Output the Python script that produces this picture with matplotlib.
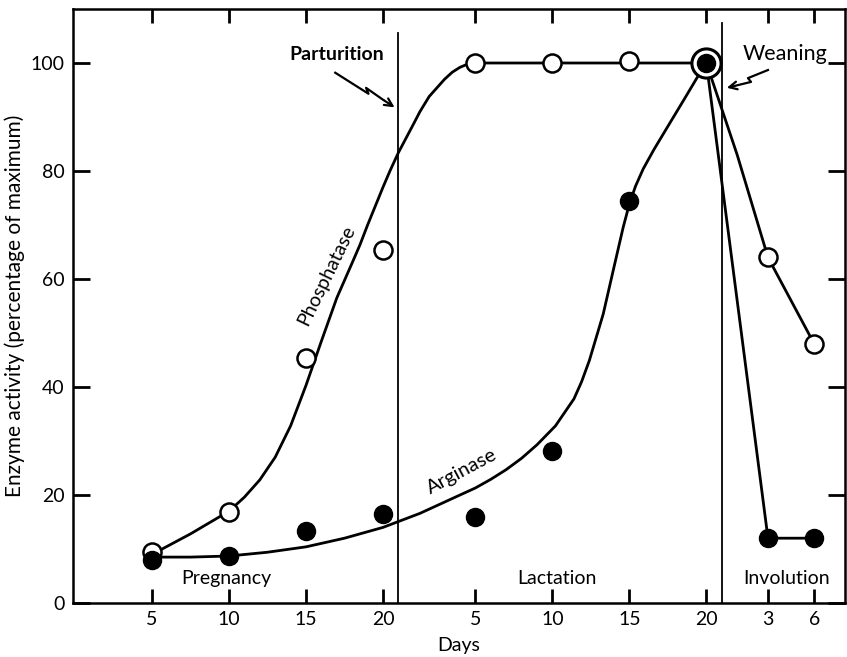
import matplotlib
matplotlib.use("Agg")
import matplotlib.pyplot as plt

# Timeline in days: pregnancy day d -> d, lactation day d -> 21 + d,
# involution day d -> 42 + d
PARTURITION = 21
WEANING = 42

tick_pos = [5, 10, 15, 20, 26, 31, 36, 41, 45, 48]
tick_labels = ["5", "10", "15", "20", "5", "10", "15", "20", "3", "6"]

# measured points
phos_x = [5, 10, 15, 20, 26, 31, 36, 41, 45, 48]
phos_y = [9.4, 16.8, 45.3, 65.3, 100, 100, 100.3, 100, 64, 48]
arg_x = [5, 10, 15, 20, 26, 31, 36, 41, 45, 48]
arg_y = [7.9, 8.7, 13.3, 16.4, 15.9, 28.1, 74.5, 100, 12, 12]

# hand-drawn fitted curves
phos_curve_x = [5, 7.5, 10, 11, 12, 13, 14, 15, 16, 17, 18, 18.5, 19, 19.4, 20,
                20.45, 21, 22, 22.4, 23, 24, 24.5, 25, 25.5, 26,
                31, 36, 41, 43, 45, 46.5, 48]
phos_curve_y = [9, 12.8, 17, 19.6, 22.8, 27, 32.8, 40.3, 48.5, 56.5, 63, 66.3, 70,
                72.8, 77, 80, 83.4, 88.8, 91, 93.8, 97, 98.3, 99.2, 99.8, 100,
                100, 100, 100, 83, 64, 56, 48]
arg_curve_x = [5, 7.5, 10, 12.5, 15, 17.5, 20, 22.4, 25, 26, 27, 28, 29, 30,
               31.2, 32.4, 32.9, 33.4, 34.3, 35, 35.6, 36, 36.4, 36.9, 37.6,
               38.4, 39.5, 40.4, 41, 45, 48]
arg_curve_y = [8.5, 8.5, 8.7, 9.4, 10.4, 12, 14, 16.6, 20, 21.3, 22.9, 24.7, 26.8,
               29.3, 32.8, 37.8, 41, 44.9, 53.5, 62.2, 69.6, 73.9, 77.2, 80.4,
               84, 87.8, 93, 97.3, 100, 12, 12]

plt.rcParams["font.family"] = ["Lato", "DejaVu Sans"]

fig = plt.figure(figsize=(8.47, 6.57), dpi=100)
ax = fig.add_axes([0.0862, 0.0822, 0.9114, 0.9041])

# curves
ax.plot(phos_curve_x, phos_curve_y, color="black", lw=2.0, zorder=2,
        solid_joinstyle="round")
ax.plot(arg_curve_x, arg_curve_y, color="black", lw=2.0, zorder=2,
        solid_joinstyle="round")

# points
ax.plot(phos_x, phos_y, "o", ms=13, mfc="white", mec="black", mew=1.8, zorder=3)
ax.plot([41], [100], "o", ms=21, mfc="white", mec="black", mew=2.2, zorder=4)
ax.plot(arg_x, arg_y, "o", ms=13, mfc="black", mec="black", zorder=5)

# phase boundaries
ax.plot([PARTURITION, PARTURITION], [0, 105.5], color="black", lw=1.3, zorder=1)
ax.plot([WEANING, WEANING], [0, 107.5], color="black", lw=1.3, zorder=1)

ax.set_xlim(-0.13, 50)
ax.set_ylim(0, 110)
ax.set_xticks(tick_pos)
ax.set_xticklabels(tick_labels)
ax.set_yticks([0, 20, 40, 60, 80, 100])

for s in ax.spines.values():
    s.set_linewidth(1.8)
ax.tick_params(axis="both", direction="in", width=2, labelsize=14, pad=6)
ax.tick_params(axis="x", length=10, top=True)
ax.tick_params(axis="y", length=12, right=True)

ax.set_ylabel("Enzyme activity (percentage of maximum)", fontsize=15, labelpad=4)
ax.set_xlabel("Days", fontsize=14, labelpad=6)

# text labels
ax.text(16.3, 60.6, "Phosphatase", rotation=64, fontsize=14, ha="center", va="center")
ax.text(25.1, 24.4, "Arginase", rotation=28, fontsize=14.5, ha="center", va="center")
ax.text(9.8, 4.5, "Pregnancy", fontsize=14, ha="center", va="center")
ax.text(31.3, 4.5, "Lactation", fontsize=14, ha="center", va="center")
ax.text(46.2, 4.5, "Involution", fontsize=14, ha="center", va="center")
ax.text(17.0, 101.5, "Parturition", fontsize=14, fontweight="bold", ha="center", va="center")
ax.text(46.1, 101.6, "Weaning", fontsize=15.5, ha="center", va="center")

# lightning-style arrows
ax.plot([16.9, 19.06, 18.9, 20.0], [98.2, 94.3, 95.4, 93.2], color="black", lw=1.6)
ax.annotate("", xy=(20.9, 91.5), xytext=(19.9, 93.4),
            arrowprops=dict(arrowstyle="->", lw=1.6, color="black",
                            mutation_scale=14))
ax.plot([45.0, 43.7, 43.9, 42.9], [98.7, 97.2, 96.5, 95.8], color="black", lw=1.6)
ax.annotate("", xy=(42.15, 95.3), xytext=(43.0, 95.85),
            arrowprops=dict(arrowstyle="->", lw=1.6, color="black",
                            mutation_scale=14))

plt.savefig("out.png", dpi=100)
